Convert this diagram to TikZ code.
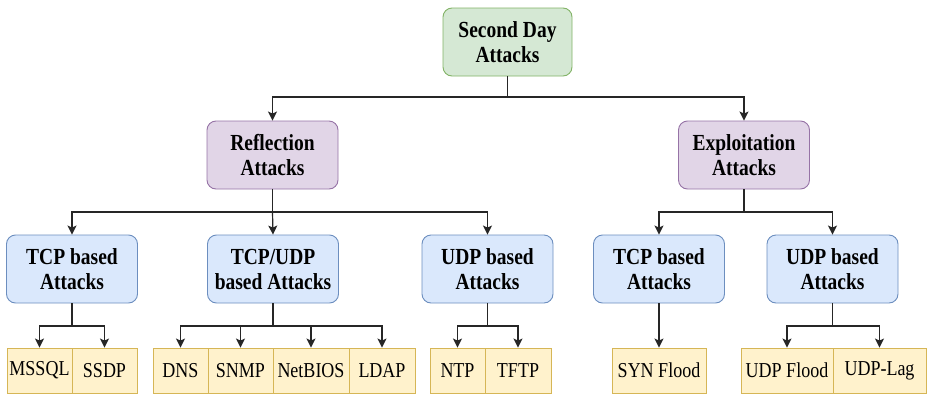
\documentclass[tikz,border=0pt]{standalone}
\usepackage{fontspec}
\usepackage{graphicx}
\setmainfont{Liberation Serif}
\usetikzlibrary{arrows.meta}
\definecolor{gfill}{HTML}{D5E8D4}\definecolor{gdraw}{HTML}{82B366}
\definecolor{pfill}{HTML}{E1D5E7}\definecolor{pdraw}{HTML}{9673A6}
\definecolor{bfill}{HTML}{DAE8FC}\definecolor{bdraw}{HTML}{6C8EBF}
\definecolor{yfill}{HTML}{FFF2CC}\definecolor{ydraw}{HTML}{D6B656}
\definecolor{lcol}{HTML}{262626}
\newcommand{\vt}[1]{\scalebox{1}[1.18]{#1}}
\tikzset{
  catbox/.style={rounded corners=9pt, line width=0.9pt, minimum height=68pt, inner sep=0pt, align=center,
     font=\fontsize{19.5}{25}\selectfont\bfseries},
  rootbox/.style={catbox, fill=gfill, draw=gdraw, minimum width=129pt},
  midbox/.style={catbox, fill=pfill, draw=pdraw, minimum width=131pt},
  subbox/.style={catbox, fill=bfill, draw=bdraw, minimum width=131pt},
  leafbox/.style={fill=yfill, draw=ydraw, line width=0.9pt, minimum height=45pt, inner sep=0pt,
     font=\fontsize{18}{22}\selectfont},
  arr/.style={draw=lcol, line width=1.2pt, -{Stealth[length=9pt,width=9pt,inset=2pt]}},
  ln/.style={draw=lcol, line width=1.2pt}
}
\begin{document}
\begin{tikzpicture}[x=1pt,y=-1pt]
\useasboundingbox (0,0) rectangle (927,394);
% nodes
\node[rootbox] (root) at (507.5,42) {\vt{Second Day}\\\vt{Attacks}};
\node[midbox] (refl) at (272.5,155) {\vt{Reflection}\\\vt{Attacks}};
\node[midbox] (expl) at (744,155) {\vt{Exploitation}\\\vt{Attacks}};
\node[subbox] (tcpa) at (72,269) {\vt{TCP based}\\\vt{Attacks}};
\node[subbox] (tuda) at (273,269) {\vt{TCP/UDP}\\\vt{based Attacks}};
\node[subbox] (udpa) at (487.5,269) {\vt{UDP based}\\\vt{Attacks}};
\node[subbox] (tcpb) at (659,269) {\vt{TCP based}\\\vt{Attacks}};
\node[subbox] (udpb) at (832.5,269) {\vt{UDP based}\\\vt{Attacks}};
\node[leafbox, minimum width=65pt] (mssql) at (39.5,370.5) {\vt{MSSQL}};
\node[leafbox, minimum width=65pt] (ssdp) at (104.5,370.5) {\vt{SSDP}};
\node[leafbox, minimum width=55pt] (dns) at (180.5,370.5) {\vt{DNS}};
\node[leafbox, minimum width=65pt] (snmp) at (240.5,370.5) {\vt{SNMP}};
\node[leafbox, minimum width=76pt] (netbios) at (311,370.5) {\vt{NetBIOS}};
\node[leafbox, minimum width=66pt] (ldap) at (382,370.5) {\vt{LDAP}};
\node[leafbox, minimum width=55pt] (ntp) at (457.5,370.5) {\vt{NTP}};
\node[leafbox, minimum width=66pt] (tftp) at (518,370.5) {\vt{TFTP}};
\node[leafbox, minimum width=94pt] (syn) at (659,370.5) {\vt{SYN Flood}};
\node[leafbox, minimum width=92pt] (udpf) at (787,370.5) {\vt{UDP Flood}};
\node[leafbox, minimum width=93pt] (udpl) at (879.5,370.5) {\vt{UDP-Lag}};
% junctions
\coordinate (j0) at (507.5,97);
\coordinate (j1) at (272.5,212);
\coordinate (j2) at (744,212);
\coordinate (j3) at (72,326);
\coordinate (j4) at (273,326);
\coordinate (j5) at (487.5,326);
\coordinate (j6) at (832.5,326);
% connectors
\draw[ln] (root.south) -- (j0);
\draw[arr] (j0) -| (refl.north);
\draw[arr] (j0) -| (expl.north);
\draw[ln] (refl.south) -- (j1);
\draw[arr] (j1) -| (tcpa.north);
\draw[arr] (j1) -- (tuda.north);
\draw[arr] (j1) -| (udpa.north);
\draw[ln] (expl.south) -- (j2);
\draw[arr] (j2) -| (tcpb.north);
\draw[arr] (j2) -| (udpb.north);
\draw[ln] (tcpa.south) -- (j3);
\draw[arr] (j3) -| (mssql.north);
\draw[arr] (j3) -| (ssdp.north);
\draw[ln] (tuda.south) -- (j4);
\draw[arr] (j4) -| (dns.north);
\draw[arr] (j4) -| (snmp.north);
\draw[arr] (j4) -| (netbios.north);
\draw[arr] (j4) -| (ldap.north);
\draw[ln] (udpa.south) -- (j5);
\draw[arr] (j5) -| (ntp.north);
\draw[arr] (j5) -| (tftp.north);
\draw[arr] (tcpb.south) -- (syn.north);
\draw[ln] (udpb.south) -- (j6);
\draw[arr] (j6) -| (udpf.north);
\draw[arr] (j6) -| (udpl.north);
\end{tikzpicture}
\end{document}
